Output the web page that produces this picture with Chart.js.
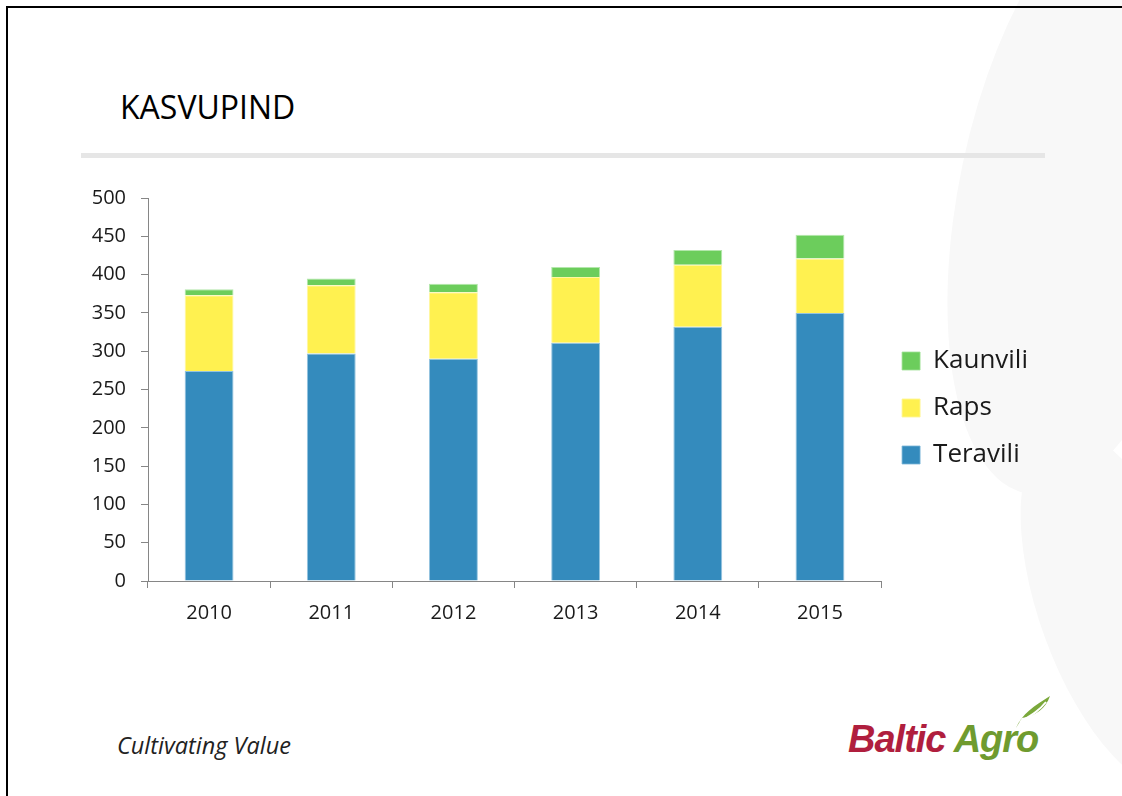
<!DOCTYPE html>
<html>
<head>
<meta charset="utf-8">
<script src="https://cdn.jsdelivr.net/npm/chart.js@4/dist/chart.umd.min.js"></script>
<style>
  html, body { margin: 0; padding: 0; background: #fff; }
  #slide { position: relative; width: 1122px; height: 796px; overflow: hidden; background: #fff; }
  .frame { position: absolute; left: 6px; top: 6px; width: 1130px; height: 800px; border-left: 2px solid #000; border-top: 2px solid #000; }
  .swoosh { position: absolute; background: #f8f8f8; border-radius: 50%; }
  .title { position: absolute; left: 120px; top: 85px; font: 32px "Open Sans", sans-serif; color: #000; }
  .rule { position: absolute; left: 81px; top: 153px; width: 964px; height: 5px; background: #e6e6e6; }
  .tagline { position: absolute; left: 117px; top: 729px; font: italic 23.5px "Open Sans", sans-serif; color: #222; }
  .logo { position: absolute; left: 848px; top: 718px; font: italic 900 38px "Liberation Sans", sans-serif; letter-spacing: -1px; }
  .logo .b { color: #b01e3e; }
  .logo .a { color: #6f9b2f; }
  canvas { position: absolute; left: 0; top: 0; }
</style>
</head>
<body>
<div id="slide">
  <div class="swoosh" style="left:960px; top:-120px; width:260px; height:620px; transform:rotate(12deg);"></div>
  <div class="swoosh" style="left:1040px; top:420px; width:160px; height:380px; transform:rotate(-20deg);"></div>
  <div class="frame"></div>
  <div class="title">KASVUPIND</div>
  <div class="rule"></div>
  <div class="tagline">Cultivating Value</div>
  <div class="logo"><span class="b">Baltic</span> <span class="a">Agro</span></div>
  <svg style="position:absolute; left:1012px; top:692px;" width="42" height="40" viewBox="0 0 42 40">
    <path d="M4 36 C10 22 22 14 38 4 C34 16 24 24 10 26 Z" fill="#7aa83a"/>
    <path d="M8 30 C18 24 26 20 34 10" stroke="#fff" stroke-width="2" fill="none"/>
  </svg>
  <canvas id="chart" width="1122" height="796"></canvas>
</div>
<script>
const aastad = ['2010', '2011', '2012', '2013', '2014', '2015'];
const teravili = [274, 297, 290, 311, 332, 350];
const raps = [99, 89, 87, 86, 81, 71];
const kaunvili = [8, 9, 11, 13, 19, 31];

const axisColor = '#868686';
const fontFamily = '"Open Sans", sans-serif';

new Chart(document.getElementById('chart'), {
  type: 'bar',
  data: {
    labels: aastad,
    datasets: [
      { label: 'Teravili', data: teravili, backgroundColor: '#348bbd', borderColor: 'rgba(120,180,215,0.8)', borderWidth: 1 },
      { label: 'Raps', data: raps, backgroundColor: '#fff150', borderColor: 'rgba(255,246,150,0.9)', borderWidth: 1 },
      { label: 'Kaunvili', data: kaunvili, backgroundColor: '#6ccd5c', borderColor: 'rgba(160,225,150,0.8)', borderWidth: 1 }
    ]
  },
  options: {
    responsive: false,
    animation: false,
    layout: { padding: { left: 0, top: 198, right: 84, bottom: 0 } },
    datasets: { bar: { barPercentage: 0.4, categoryPercentage: 1 } },
    scales: {
      x: {
        stacked: true,
        grid: { drawOnChartArea: false, drawTicks: true, tickLength: 7, color: axisColor },
        border: { color: axisColor, width: 1 },
        ticks: { font: { family: fontFamily, size: 20 }, color: '#1a1a1a', padding: 13 },
        afterFit: (s) => { s.height = 215; }
      },
      y: {
        stacked: true,
        min: 0,
        max: 500,
        ticks: { stepSize: 50, font: { family: fontFamily, size: 20 }, color: '#1a1a1a', padding: 15 },
        grid: { drawOnChartArea: false, drawTicks: true, tickLength: 7, color: axisColor },
        border: { color: axisColor, width: 1 },
        afterFit: (s) => { s.width = 148; }
      }
    },
    plugins: {
      tooltip: { enabled: false },
      legend: {
        position: 'right',
        align: 'center',
        fullSize: false,
        reverse: true,
        title: { display: true, text: '', font: { size: 37, lineHeight: 1 }, padding: 0 },
        labels: {
          boxWidth: 18,
          boxHeight: 18,
          padding: 21,
          color: '#1a1a1a',
          font: { family: fontFamily, size: 26 }
        }
      }
    }
  }
});
</script>
</body>
</html>
